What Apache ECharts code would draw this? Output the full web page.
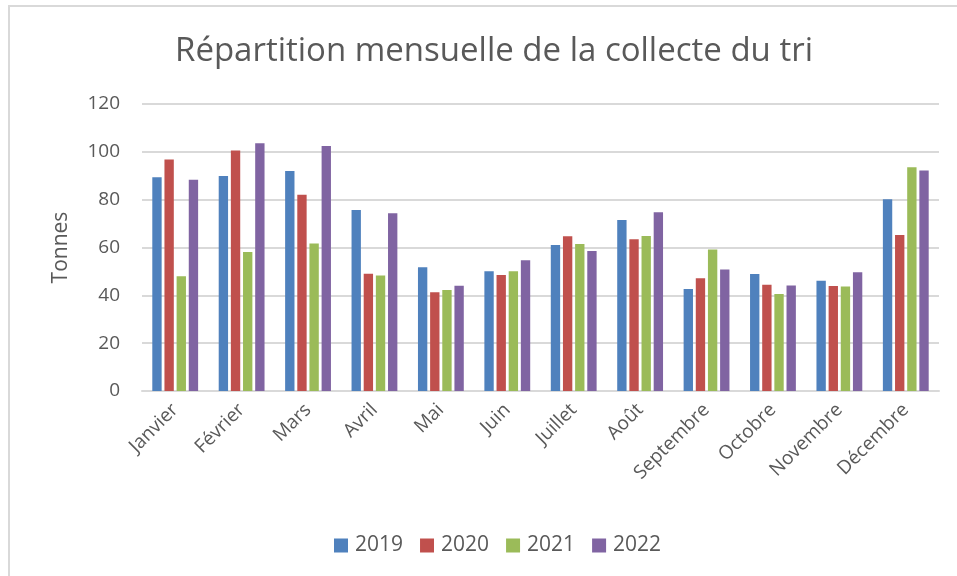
<!DOCTYPE html>
<html>
<head>
<meta charset="utf-8">
<script src="https://cdn.jsdelivr.net/npm/echarts@6/dist/echarts.min.js"></script>
<style>
  html, body { margin: 0; padding: 0; background: #fff; }
  #frame { position: absolute; left: 8px; top: 5px; width: 960px; height: 580px; border-left: 2px solid #d9d9d9; border-top: 2px solid #d9d9d9; }
  #chart { position: absolute; left: 0; top: 0; width: 957px; height: 576px; }
</style>
</head>
<body>
<div id="frame"></div>
<div id="chart"></div>
<script>
var months = ['Janvier', 'Février', 'Mars', 'Avril', 'Mai', 'Juin', 'Juillet', 'Août', 'Septembre', 'Octobre', 'Novembre', 'Décembre'];
var years = ['2019', '2020', '2021', '2022'];
var colors = ['#4f81bd', '#c0504d', '#9bbb59', '#8064a2'];

var data2019 = [89.4, 89.9, 92.0, 75.7, 51.7, 50.1, 61.0, 71.5, 42.7, 48.9, 46.1, 80.2];
var data2020 = [96.8, 100.6, 82.1, 49.0, 41.3, 48.5, 64.7, 63.5, 47.1, 44.4, 43.9, 65.2];
var data2021 = [48.0, 58.1, 61.7, 48.3, 42.2, 50.1, 61.5, 64.8, 59.2, 40.6, 43.7, 93.6];
var data2022 = [88.3, 103.6, 102.4, 74.3, 44.0, 54.7, 58.5, 74.7, 50.8, 44.1, 49.7, 92.2];

var yTicks = [0, 20, 40, 60, 80, 100, 120];

var allData = [data2019, data2020, data2021, data2022];
var font = "'Open Sans', 'Liberation Sans', sans-serif";
var textColor = '#595959';

var series = [];
for (var i = 0; i < years.length; i++) {
    series.push({
        name: years[i],
        type: 'bar',
        data: allData[i],
        barGap: '30%',
        barCategoryGap: '31%',
        itemStyle: { color: colors[i] }
    });
}

var myChart = echarts.init(document.getElementById('chart'));
myChart.setOption({
    animation: false,
    textStyle: { fontFamily: font },
    title: {
        text: 'Répartition mensuelle de la collecte du tri',
        left: 489,
        textAlign: 'center',
        top: 30,
        textStyle: { fontFamily: font, fontSize: 33, fontWeight: 'normal', color: textColor }
    },
    legend: {
        data: years,
        top: 530,
        left: 329,
        itemWidth: 14,
        itemHeight: 14,
        itemGap: 17,
        icon: 'rect',
        textStyle: { fontFamily: font, fontSize: 21, color: textColor, padding: [0, 0, 0, 2] }
    },
    grid: { left: 142, right: 18, top: 104, bottom: 185, containLabel: false },
    xAxis: {
        type: 'category',
        data: months,
        axisTick: { show: false },
        axisLine: { lineStyle: { color: '#d9d9d9', width: 2 } },
        axisLabel: { rotate: 45, fontSize: 19, color: textColor, fontFamily: font, margin: 16, interval: 0 }
    },
    yAxis: {
        type: 'value',
        min: yTicks[0],
        max: yTicks[yTicks.length - 1],
        interval: 20,
        name: 'Tonnes',
        nameLocation: 'middle',
        nameGap: 70,
        nameTextStyle: { fontSize: 21, color: textColor, fontFamily: font },
        axisLine: { show: false },
        axisTick: { show: false },
        splitLine: { lineStyle: { color: '#d9d9d9', width: 2 } },
        axisLabel: { fontSize: 19, color: textColor, fontFamily: font, margin: 22 }
    },
    series: series
});
</script>
</body>
</html>
